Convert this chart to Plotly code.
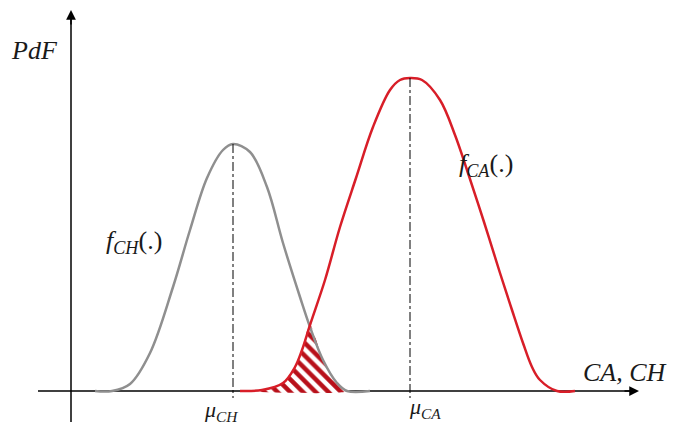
import plotly.graph_objects as go

# points (x from the vertical axis, y above the baseline)
ch_x = [24, 41, 59, 79, 102, 119, 136, 152, 162, 179, 196, 212, 229, 239, 252, 266, 276, 299]
ch_y = [0, 0, 7, 38, 104, 161, 213, 241, 247, 239, 204, 148, 94, 64, 31, 8, 0, 0]

ca_x = [169, 191, 212, 224, 231, 239, 254, 269, 285, 302, 319, 329, 339, 351, 369, 384, 396,
        413, 429, 441, 452, 461, 469, 486, 504]
ca_y = [0, 1, 8, 24, 41, 66, 111, 164, 213, 264, 301, 311, 313, 311, 291, 256, 221,
        169, 118, 81, 48, 24, 11, 0, 0]

mu_ch, peak_ch = 162, 247
mu_ca, peak_ca = 339, 313
cross_x = 239

grey = "#8f8f8f"
red = "#d81e28"
serif = "Liberation Serif, Times New Roman, serif"

fig = go.Figure()

# axes (drawn first so the curves sit on top)
fig.add_trace(go.Scatter(x=[0, 0], y=[-31, 376], mode="lines",
                         line=dict(color="black", width=1.5), hoverinfo="skip"))
fig.add_trace(go.Scatter(x=[-33, 562], y=[0, 0], mode="lines",
                         line=dict(color="black", width=1.5), hoverinfo="skip"))

# overlap region: under the red curve up to the crossing, then under the grey one
hx = [x for x in ca_x if x <= cross_x] + [x for x in ch_x if x > cross_x and x <= 276]
hy = [y for x, y in zip(ca_x, ca_y) if x <= cross_x] + \
     [y for x, y in zip(ch_x, ch_y) if x > cross_x and x <= 276]
fig.add_trace(go.Scatter(x=hx + [hx[0]], y=hy + [0], mode="lines", fill="toself",
                         line=dict(width=0, shape="spline", smoothing=0.8), fillcolor="white",
                         fillpattern=dict(shape="\\", fgcolor="#b8101a", bgcolor="white",
                                          fgopacity=1, size=9, solidity=0.5),
                         hoverinfo="skip"))

fig.add_trace(go.Scatter(x=ch_x, y=ch_y, mode="lines",
                         line=dict(color=grey, width=2.5, shape="spline", smoothing=1.0),
                         hoverinfo="skip"))
fig.add_trace(go.Scatter(x=ca_x, y=ca_y, mode="lines",
                         line=dict(color=red, width=2.5, shape="spline", smoothing=1.0),
                         hoverinfo="skip"))

# mean markers
for mu, pk in [(mu_ch, peak_ch), (mu_ca, peak_ca)]:
    fig.add_trace(go.Scatter(x=[mu, mu], y=[pk, -7], mode="lines",
                             line=dict(color="black", width=1, dash="dashdot"),
                             hoverinfo="skip"))

# arrowheads
fig.add_annotation(x=0, y=381, ax=0, ay=16, axref="pixel", ayref="pixel", text="",
                   showarrow=True, arrowhead=2, arrowsize=1.3, arrowwidth=1.5,
                   arrowcolor="black")
fig.add_annotation(x=568, y=0, ax=-16, ay=0, axref="pixel", ayref="pixel", text="",
                   showarrow=True, arrowhead=2, arrowsize=1.3, arrowwidth=1.5,
                   arrowcolor="black")

labels = [
    (-62, 341, "<i>PdF</i>", 26),
    (33, 149, "<i>f</i><sub><i>CH</i></sub>(.)", 26),
    (386, 226, "<i>f</i><sub><i>CA</i></sub>(.)", 26),
    (131, -20, "<i>μ</i><sub><i>CH</i></sub>", 22),
    (336, -17, "<i>μ</i><sub><i>CA</i></sub>", 22),
    (510, 19, "<i>CA, CH</i>", 26),
]
for x, y, t, s in labels:
    fig.add_annotation(x=x, y=y, text=t, showarrow=False, xanchor="left", yanchor="middle",
                       font=dict(family=serif, size=s, color="#1a1a1a"))

# the page adds an 8px body margin, so the ranges are shifted to compensate
fig.update_layout(
    width=677, height=427,
    margin=dict(l=0, r=0, t=0, b=0),
    paper_bgcolor="white", plot_bgcolor="white",
    showlegend=False, hovermode=False,
    xaxis=dict(range=[-63, 614], visible=False, fixedrange=True),
    yaxis=dict(range=[-44, 383], visible=False, fixedrange=True),
)

fig.write_html("out.html")
